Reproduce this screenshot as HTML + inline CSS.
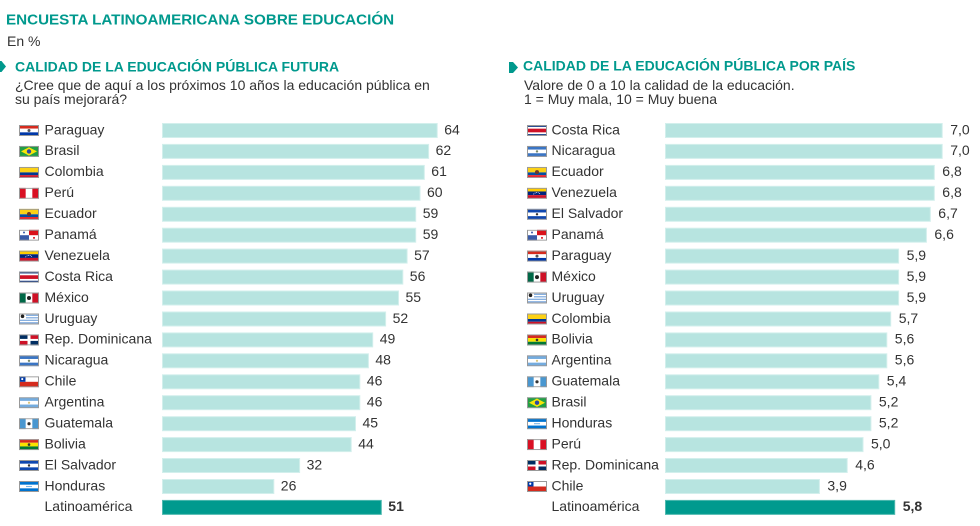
<!DOCTYPE html>
<html><head><meta charset="utf-8"><style>
html,body{margin:0;padding:0;background:#fff;}
svg{display:block;font-family:"Liberation Sans",Arial,sans-serif;}
.t{font-size:14px;fill:#333;}
.h{font-weight:bold;fill:#00998d;}
.b{fill:#b7e4e0;stroke:#d2efec;stroke-width:1;}
.d{fill:#009a8e;stroke:#4fb9af;stroke-width:1;}
</style></head><body>
<svg width="980" height="526" viewBox="0 0 980 526" xmlns="http://www.w3.org/2000/svg" xmlns:xlink="http://www.w3.org/1999/xlink">
<defs>
<symbol id="py" viewBox="0 0 20 11"><rect width="20" height="3.67" fill="#d52b1e"/><rect y="3.67" width="20" height="3.67" fill="#fff"/><rect y="7.33" width="20" height="3.67" fill="#0038a8"/><circle cx="10" cy="5.5" r="1.5" fill="#555"/><rect x="0.5" y="0.5" width="19" height="10" fill="none" stroke="#999"/></symbol>
<symbol id="br" viewBox="0 0 20 11"><rect width="20" height="11" fill="#229e45"/><polygon points="10,1.3 18,5.5 10,9.7 2,5.5" fill="#f8e509"/><circle cx="10" cy="5.5" r="2.2" fill="#2b49a3"/><rect x="0.5" y="0.5" width="19" height="10" fill="none" stroke="#999"/></symbol>
<symbol id="co" viewBox="0 0 20 11"><rect width="20" height="5.5" fill="#fcd116"/><rect y="5.5" width="20" height="2.75" fill="#003893"/><rect y="8.25" width="20" height="2.75" fill="#ce1126"/><rect x="0.5" y="0.5" width="19" height="10" fill="none" stroke="#999"/></symbol>
<symbol id="pe" viewBox="0 0 20 11"><rect width="20" height="11" fill="#fff"/><rect width="6.67" height="11" fill="#d91023"/><rect x="13.33" width="6.67" height="11" fill="#d91023"/><rect x="0.5" y="0.5" width="19" height="10" fill="none" stroke="#999"/></symbol>
<symbol id="ec" viewBox="0 0 20 11"><rect width="20" height="5.5" fill="#fcd116"/><rect y="5.5" width="20" height="2.75" fill="#034ea2"/><rect y="8.25" width="20" height="2.75" fill="#ed1c24"/><circle cx="10" cy="5.2" r="2" fill="#6b3a2a"/><rect x="0.5" y="0.5" width="19" height="10" fill="none" stroke="#999"/></symbol>
<symbol id="pa" viewBox="0 0 20 11"><rect width="20" height="11" fill="#fff"/><rect x="10" width="10" height="5.5" fill="#da121a"/><rect y="5.5" width="10" height="5.5" fill="#3a5ba8"/><circle cx="5" cy="2.8" r="1" fill="#3a5ba8"/><circle cx="15" cy="8.2" r="1" fill="#da121a"/><rect x="0.5" y="0.5" width="19" height="10" fill="none" stroke="#999"/></symbol>
<symbol id="ve" viewBox="0 0 20 11"><rect width="20" height="3.67" fill="#ffcc00"/><rect y="3.67" width="20" height="3.67" fill="#00247d"/><rect y="7.33" width="20" height="3.67" fill="#cf142b"/><path d="M6.5 6.5 Q10 3 13.5 6.5" fill="none" stroke="#fff" stroke-width="0.8" stroke-dasharray="0.8 0.8"/><rect x="0.5" y="0.5" width="19" height="10" fill="none" stroke="#999"/></symbol>
<symbol id="cr" viewBox="0 0 20 11"><rect width="20" height="11" fill="#002b7f"/><rect y="1.83" width="20" height="7.34" fill="#fff"/><rect y="3.67" width="20" height="3.66" fill="#ce1126"/><rect x="0.5" y="0.5" width="19" height="10" fill="none" stroke="#999"/></symbol>
<symbol id="mx" viewBox="0 0 20 11"><rect width="20" height="11" fill="#fff"/><rect width="6.67" height="11" fill="#006847"/><rect x="13.33" width="6.67" height="11" fill="#ce1126"/><circle cx="10" cy="5.5" r="2" fill="#222"/><rect x="0.5" y="0.5" width="19" height="10" fill="none" stroke="#999"/></symbol>
<symbol id="uy" viewBox="0 0 20 11"><rect width="20" height="11" fill="#fff"/><rect y="1.2" width="20" height="1.2" fill="#7aa7dd"/><rect y="3.7" width="20" height="1.2" fill="#7aa7dd"/><rect y="6.2" width="20" height="1.2" fill="#7aa7dd"/><rect y="8.7" width="20" height="1.2" fill="#7aa7dd"/><rect width="7" height="5.5" fill="#fff"/><circle cx="3.5" cy="2.8" r="1.8" fill="#222"/><rect x="0.5" y="0.5" width="19" height="10" fill="none" stroke="#999"/></symbol>
<symbol id="do" viewBox="0 0 20 11"><rect width="20" height="11" fill="#fff"/><rect width="8.5" height="4.5" fill="#002d62"/><rect x="11.5" width="8.5" height="4.5" fill="#ce1126"/><rect y="6.5" width="8.5" height="4.5" fill="#ce1126"/><rect x="11.5" y="6.5" width="8.5" height="4.5" fill="#002d62"/><rect x="0.5" y="0.5" width="19" height="10" fill="none" stroke="#999"/></symbol>
<symbol id="ni" viewBox="0 0 20 11"><rect width="20" height="11" fill="#3a75c4"/><rect y="3.67" width="20" height="3.67" fill="#fff"/><circle cx="10" cy="5.5" r="1.2" fill="#7a8a6a"/><rect x="0.5" y="0.5" width="19" height="10" fill="none" stroke="#999"/></symbol>
<symbol id="cl" viewBox="0 0 20 11"><rect width="20" height="5.5" fill="#fff"/><rect y="5.5" width="20" height="5.5" fill="#d52b1e"/><rect width="6.5" height="5.5" fill="#0039a6"/><circle cx="3.25" cy="2.75" r="1.1" fill="#fff"/><rect x="0.5" y="0.5" width="19" height="10" fill="none" stroke="#999"/></symbol>
<symbol id="ar" viewBox="0 0 20 11"><rect width="20" height="11" fill="#74acdf"/><rect y="3.67" width="20" height="3.67" fill="#fff"/><circle cx="10" cy="5.5" r="1.1" fill="#d8c37a"/><rect x="0.5" y="0.5" width="19" height="10" fill="none" stroke="#999"/></symbol>
<symbol id="gt" viewBox="0 0 20 11"><rect width="20" height="11" fill="#fff"/><rect width="6.67" height="11" fill="#4997d0"/><rect x="13.33" width="6.67" height="11" fill="#4997d0"/><circle cx="10" cy="5.5" r="1.6" fill="#333"/><rect x="0.5" y="0.5" width="19" height="10" fill="none" stroke="#999"/></symbol>
<symbol id="bo" viewBox="0 0 20 11"><rect width="20" height="3.67" fill="#d52b1e"/><rect y="3.67" width="20" height="3.67" fill="#f9e300"/><rect y="7.33" width="20" height="3.67" fill="#007934"/><circle cx="10" cy="5.5" r="1.3" fill="#333"/><rect x="0.5" y="0.5" width="19" height="10" fill="none" stroke="#999"/></symbol>
<symbol id="sv" viewBox="0 0 20 11"><rect width="20" height="11" fill="#0f47af"/><rect y="3.67" width="20" height="3.67" fill="#fff"/><circle cx="10" cy="5.5" r="1.2" fill="#333"/><rect x="0.5" y="0.5" width="19" height="10" fill="none" stroke="#999"/></symbol>
<symbol id="hn" viewBox="0 0 20 11"><rect width="20" height="11" fill="#0073cf"/><rect y="3.67" width="20" height="3.67" fill="#fff"/><circle cx="8" cy="5.5" r="0.6" fill="#0073cf"/><circle cx="10" cy="5.5" r="0.6" fill="#0073cf"/><circle cx="12" cy="5.5" r="0.6" fill="#0073cf"/><rect x="0.5" y="0.5" width="19" height="10" fill="none" stroke="#999"/></symbol>
</defs>

<text x="6" y="24.5" class="h" font-size="15.2">ENCUESTA LATINOAMERICANA SOBRE EDUCACIÓN</text>
<text x="7" y="46" class="t">En %</text>

<polygon points="0,61 1.5,61 6,66.5 1.5,72 0,72" fill="#00998d"/>
<text x="15" y="71.3" class="h" font-size="14">CALIDAD DE LA EDUCACIÓN PÚBLICA FUTURA</text>
<text x="15" y="90.2" class="t">¿Cree que de aquí a los próximos 10 años la educación pública en</text>
<text x="15" y="104" class="t">su país mejorará?</text>

<polygon points="509,62 513,62 518,67.5 513,73 509,73" fill="#00998d"/>
<text x="523" y="70.7" class="h" font-size="14">CALIDAD DE LA EDUCACIÓN PÚBLICA POR PAÍS</text>
<text x="524" y="90" class="t">Valore de 0 a 10 la calidad de la educación.</text>
<text x="524" y="104" class="t">1 = Muy mala, 10 = Muy buena</text>

<!-- LEFT PANEL -->
<g>
<use xlink:href="#py" href="#py" x="19" y="125" width="20" height="11"/><text x="44.5" y="134.3" class="t">Paraguay</text><rect class="b" x="162.5" y="123.5" width="274.7" height="14"/><text x="444.2" y="134.3" class="t">64</text>
<use xlink:href="#br" href="#br" x="19" y="145.9" width="20" height="11"/><text x="44.5" y="155.2" class="t">Brasil</text><rect class="b" x="162.5" y="144.4" width="266.1" height="14"/><text x="435.6" y="155.2" class="t">62</text>
<use xlink:href="#co" href="#co" x="19" y="166.9" width="20" height="11"/><text x="44.5" y="176.2" class="t">Colombia</text><rect class="b" x="162.5" y="165.4" width="261.8" height="14"/><text x="431.3" y="176.2" class="t">61</text>
<use xlink:href="#pe" href="#pe" x="19" y="187.8" width="20" height="11"/><text x="44.5" y="197.1" class="t">Perú</text><rect class="b" x="162.5" y="186.3" width="257.5" height="14"/><text x="427" y="197.1" class="t">60</text>
<use xlink:href="#ec" href="#ec" x="19" y="208.8" width="20" height="11"/><text x="44.5" y="218.1" class="t">Ecuador</text><rect class="b" x="162.5" y="207.3" width="253.2" height="14"/><text x="422.7" y="218.1" class="t">59</text>
<use xlink:href="#pa" href="#pa" x="19" y="229.7" width="20" height="11"/><text x="44.5" y="239" class="t">Panamá</text><rect class="b" x="162.5" y="228.2" width="253.2" height="14"/><text x="422.7" y="239" class="t">59</text>
<use xlink:href="#ve" href="#ve" x="19" y="250.6" width="20" height="11"/><text x="44.5" y="259.9" class="t">Venezuela</text><rect class="b" x="162.5" y="249.1" width="244.6" height="14"/><text x="414.1" y="259.9" class="t">57</text>
<use xlink:href="#cr" href="#cr" x="19" y="271.6" width="20" height="11"/><text x="44.5" y="280.9" class="t">Costa Rica</text><rect class="b" x="162.5" y="270.1" width="240.3" height="14"/><text x="409.8" y="280.9" class="t">56</text>
<use xlink:href="#mx" href="#mx" x="19" y="292.5" width="20" height="11"/><text x="44.5" y="301.8" class="t">México</text><rect class="b" x="162.5" y="291" width="236" height="14"/><text x="405.5" y="301.8" class="t">55</text>
<use xlink:href="#uy" href="#uy" x="19" y="313.5" width="20" height="11"/><text x="44.5" y="322.8" class="t">Uruguay</text><rect class="b" x="162.5" y="312" width="223.1" height="14"/><text x="392.6" y="322.8" class="t">52</text>
<use xlink:href="#do" href="#do" x="19" y="334.4" width="20" height="11"/><text x="44.5" y="343.7" class="t">Rep. Dominicana</text><rect class="b" x="162.5" y="332.9" width="210.2" height="14"/><text x="379.7" y="343.7" class="t">49</text>
<use xlink:href="#ni" href="#ni" x="19" y="355.3" width="20" height="11"/><text x="44.5" y="364.6" class="t">Nicaragua</text><rect class="b" x="162.5" y="353.8" width="205.9" height="14"/><text x="375.4" y="364.6" class="t">48</text>
<use xlink:href="#cl" href="#cl" x="19" y="376.3" width="20" height="11"/><text x="44.5" y="385.6" class="t">Chile</text><rect class="b" x="162.5" y="374.8" width="197.3" height="14"/><text x="366.8" y="385.6" class="t">46</text>
<use xlink:href="#ar" href="#ar" x="19" y="397.2" width="20" height="11"/><text x="44.5" y="406.5" class="t">Argentina</text><rect class="b" x="162.5" y="395.7" width="197.3" height="14"/><text x="366.8" y="406.5" class="t">46</text>
<use xlink:href="#gt" href="#gt" x="19" y="418.2" width="20" height="11"/><text x="44.5" y="427.5" class="t">Guatemala</text><rect class="b" x="162.5" y="416.7" width="193" height="14"/><text x="362.5" y="427.5" class="t">45</text>
<use xlink:href="#bo" href="#bo" x="19" y="439.1" width="20" height="11"/><text x="44.5" y="448.4" class="t">Bolivia</text><rect class="b" x="162.5" y="437.6" width="188.7" height="14"/><text x="358.2" y="448.4" class="t">44</text>
<use xlink:href="#sv" href="#sv" x="19" y="460" width="20" height="11"/><text x="44.5" y="469.3" class="t">El Salvador</text><rect class="b" x="162.5" y="458.5" width="137.1" height="14"/><text x="306.6" y="469.3" class="t">32</text>
<use xlink:href="#hn" href="#hn" x="19" y="481" width="20" height="11"/><text x="44.5" y="490.3" class="t">Honduras</text><rect class="b" x="162.5" y="479.5" width="111.3" height="14"/><text x="280.8" y="490.3" class="t">26</text>
<text x="44.5" y="511.2" class="t">Latinoamérica</text><rect class="d" x="162.5" y="500.4" width="218.8" height="14"/><text x="388.3" y="511.2" class="t" font-weight="bold">51</text>
</g>

<!-- RIGHT PANEL -->
<g>
<use xlink:href="#cr" href="#cr" x="527" y="125" width="20" height="11"/><text x="551.5" y="134.3" class="t">Costa Rica</text><rect class="b" x="665.5" y="123.5" width="276.7" height="14"/><text x="950.2" y="134.3" class="t">7,0</text>
<use xlink:href="#ni" href="#ni" x="527" y="145.9" width="20" height="11"/><text x="551.5" y="155.2" class="t">Nicaragua</text><rect class="b" x="665.5" y="144.4" width="276.7" height="14"/><text x="950.2" y="155.2" class="t">7,0</text>
<use xlink:href="#ec" href="#ec" x="527" y="166.9" width="20" height="11"/><text x="551.5" y="176.2" class="t">Ecuador</text><rect class="b" x="665.5" y="165.4" width="268.8" height="14"/><text x="942.3" y="176.2" class="t">6,8</text>
<use xlink:href="#ve" href="#ve" x="527" y="187.8" width="20" height="11"/><text x="551.5" y="197.1" class="t">Venezuela</text><rect class="b" x="665.5" y="186.3" width="268.8" height="14"/><text x="942.3" y="197.1" class="t">6,8</text>
<use xlink:href="#sv" href="#sv" x="527" y="208.8" width="20" height="11"/><text x="551.5" y="218.1" class="t">El Salvador</text><rect class="b" x="665.5" y="207.3" width="264.8" height="14"/><text x="938.3" y="218.1" class="t">6,7</text>
<use xlink:href="#pa" href="#pa" x="527" y="229.7" width="20" height="11"/><text x="551.5" y="239" class="t">Panamá</text><rect class="b" x="665.5" y="228.2" width="260.9" height="14"/><text x="934.4" y="239" class="t">6,6</text>
<use xlink:href="#py" href="#py" x="527" y="250.6" width="20" height="11"/><text x="551.5" y="259.9" class="t">Paraguay</text><rect class="b" x="665.5" y="249.1" width="233.1" height="14"/><text x="906.6" y="259.9" class="t">5,9</text>
<use xlink:href="#mx" href="#mx" x="527" y="271.6" width="20" height="11"/><text x="551.5" y="280.9" class="t">México</text><rect class="b" x="665.5" y="270.1" width="233.1" height="14"/><text x="906.6" y="280.9" class="t">5,9</text>
<use xlink:href="#uy" href="#uy" x="527" y="292.5" width="20" height="11"/><text x="551.5" y="301.8" class="t">Uruguay</text><rect class="b" x="665.5" y="291" width="233.1" height="14"/><text x="906.6" y="301.8" class="t">5,9</text>
<use xlink:href="#co" href="#co" x="527" y="313.5" width="20" height="11"/><text x="551.5" y="322.8" class="t">Colombia</text><rect class="b" x="665.5" y="312" width="225.2" height="14"/><text x="898.7" y="322.8" class="t">5,7</text>
<use xlink:href="#bo" href="#bo" x="527" y="334.4" width="20" height="11"/><text x="551.5" y="343.7" class="t">Bolivia</text><rect class="b" x="665.5" y="332.9" width="221.3" height="14"/><text x="894.8" y="343.7" class="t">5,6</text>
<use xlink:href="#ar" href="#ar" x="527" y="355.3" width="20" height="11"/><text x="551.5" y="364.6" class="t">Argentina</text><rect class="b" x="665.5" y="353.8" width="221.3" height="14"/><text x="894.8" y="364.6" class="t">5,6</text>
<use xlink:href="#gt" href="#gt" x="527" y="376.3" width="20" height="11"/><text x="551.5" y="385.6" class="t">Guatemala</text><rect class="b" x="665.5" y="374.8" width="213.3" height="14"/><text x="886.8" y="385.6" class="t">5,4</text>
<use xlink:href="#br" href="#br" x="527" y="397.2" width="20" height="11"/><text x="551.5" y="406.5" class="t">Brasil</text><rect class="b" x="665.5" y="395.7" width="205.4" height="14"/><text x="878.9" y="406.5" class="t">5,2</text>
<use xlink:href="#hn" href="#hn" x="527" y="418.2" width="20" height="11"/><text x="551.5" y="427.5" class="t">Honduras</text><rect class="b" x="665.5" y="416.7" width="205.4" height="14"/><text x="878.9" y="427.5" class="t">5,2</text>
<use xlink:href="#pe" href="#pe" x="527" y="439.1" width="20" height="11"/><text x="551.5" y="448.4" class="t">Perú</text><rect class="b" x="665.5" y="437.6" width="197.5" height="14"/><text x="871" y="448.4" class="t">5,0</text>
<use xlink:href="#do" href="#do" x="527" y="460" width="20" height="11"/><text x="551.5" y="469.3" class="t">Rep. Dominicana</text><rect class="b" x="665.5" y="458.5" width="181.7" height="14"/><text x="855.2" y="469.3" class="t">4,6</text>
<use xlink:href="#cl" href="#cl" x="527" y="481" width="20" height="11"/><text x="551.5" y="490.3" class="t">Chile</text><rect class="b" x="665.5" y="479.5" width="153.9" height="14"/><text x="827.4" y="490.3" class="t">3,9</text>
<text x="551.5" y="511.2" class="t">Latinoamérica</text><rect class="d" x="665.5" y="500.4" width="229.2" height="14"/><text x="902.7" y="511.2" class="t" font-weight="bold">5,8</text>
</g>
</svg>
</body></html>
